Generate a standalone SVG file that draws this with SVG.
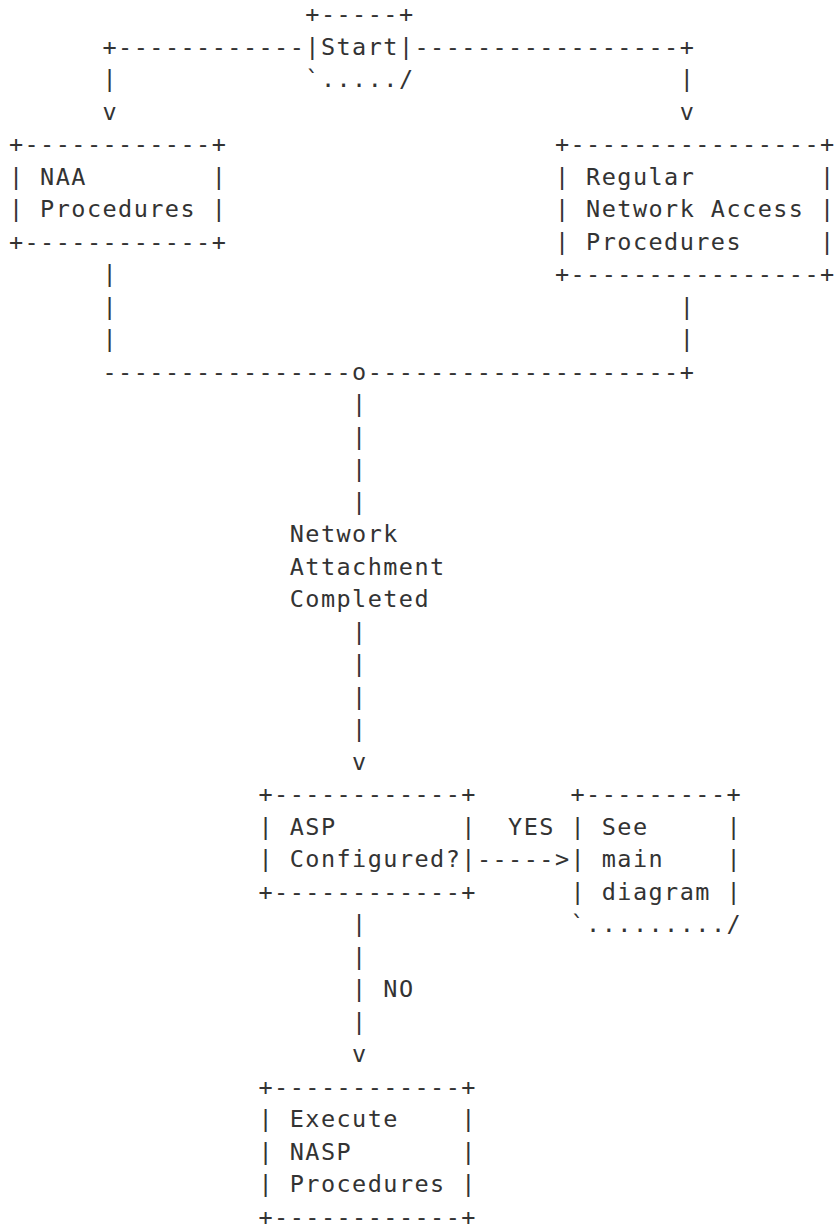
<svg xmlns="http://www.w3.org/2000/svg" width="834" height="1226" viewBox="0 0 834 1226" xml:space="preserve">
<style>
text { font-family: "DejaVu Sans Mono", "Liberation Mono", monospace; font-size: 23.5px; letter-spacing: 1.45px; fill: #333333; white-space: pre; }
</style>
<rect x="0" y="0" width="834" height="1226" fill="#ffffff"/>
<g id="node-start">
<text><tspan x="305.3" y="22">+-----+</tspan><tspan x="305.3" y="54.5">|Start|</tspan><tspan x="305.3" y="87">`...../</tspan></text>
</g>
<g id="node-naa">
<text><tspan x="8.9" y="152">+------------+</tspan><tspan x="8.9" y="184.5">| NAA        |</tspan><tspan x="8.9" y="217">| Procedures |</tspan><tspan x="8.9" y="249.5">+------------+</tspan></text>
</g>
<g id="node-regular">
<text><tspan x="554.9" y="152">+----------------+</tspan><tspan x="554.9" y="184.5">| Regular        |</tspan><tspan x="554.9" y="217">| Network Access |</tspan><tspan x="554.9" y="249.5">| Procedures     |</tspan><tspan x="554.9" y="282">+----------------+</tspan></text>
</g>
<g id="node-asp">
<text><tspan x="258.5" y="802">+------------+</tspan><tspan x="258.5" y="834.5">| ASP        |</tspan><tspan x="258.5" y="867">| Configured?|</tspan><tspan x="258.5" y="899.5">+------------+</tspan></text>
</g>
<g id="node-see-main">
<text><tspan x="570.5" y="802">+---------+</tspan><tspan x="570.5" y="834.5">| See     |</tspan><tspan x="570.5" y="867">| main    |</tspan><tspan x="570.5" y="899.5">| diagram |</tspan><tspan x="570.5" y="932">`........./</tspan></text>
</g>
<g id="node-execute">
<text><tspan x="258.5" y="1094.5">+------------+</tspan><tspan x="258.5" y="1127">| Execute    |</tspan><tspan x="258.5" y="1159.5">| NASP       |</tspan><tspan x="258.5" y="1192">| Procedures |</tspan><tspan x="258.5" y="1224.5">+------------+</tspan></text>
</g>
<g id="connectors">
<text><tspan x="102.5" y="54.5">+------------</tspan><tspan x="414.5" y="54.5">-----------------+</tspan></text>
<text><tspan x="102.5" y="87">|</tspan><tspan x="679.7" y="87">|</tspan></text>
<text><tspan x="102.5" y="119.5">v</tspan><tspan x="679.7" y="119.5">v</tspan></text>
<text><tspan x="102.5" y="282">|</tspan><tspan x="102.5" y="314.5">|</tspan><tspan x="102.5" y="347">|</tspan></text>
<text><tspan x="679.7" y="314.5">|</tspan><tspan x="679.7" y="347">|</tspan></text>
<text><tspan x="102.5" y="379.5">----------------o--------------------+</tspan></text>
<text><tspan x="352.1" y="412">|</tspan><tspan x="352.1" y="444.5">|</tspan><tspan x="352.1" y="477">|</tspan><tspan x="352.1" y="509.5">|</tspan></text>
<text><tspan x="289.7" y="542">Network</tspan><tspan x="289.7" y="574.5">Attachment</tspan><tspan x="289.7" y="607">Completed</tspan></text>
<text><tspan x="352.1" y="639.5">|</tspan><tspan x="352.1" y="672">|</tspan><tspan x="352.1" y="704.5">|</tspan><tspan x="352.1" y="737">|</tspan><tspan x="352.1" y="769.5">v</tspan></text>
<text><tspan x="508.1" y="834.5">YES</tspan></text>
<text><tspan x="476.9" y="867">-----&gt;</tspan></text>
<text><tspan x="352.1" y="932">|</tspan><tspan x="352.1" y="964.5">|</tspan><tspan x="352.1" y="997">|</tspan><tspan x="352.1" y="1029.5">|</tspan><tspan x="352.1" y="1062">v</tspan></text>
<text><tspan x="383.3" y="997">NO</tspan></text>
</g>
</svg>
